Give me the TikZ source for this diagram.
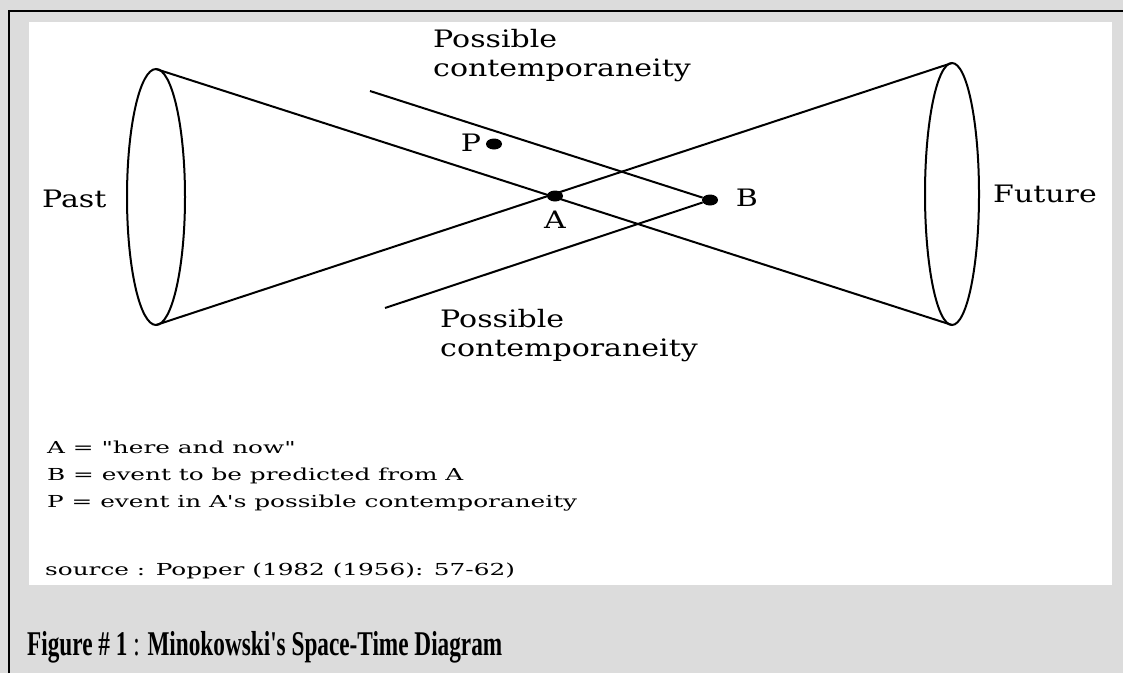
\documentclass[tikz,border=0pt]{standalone}
\usepackage{fontspec}
\usetikzlibrary{positioning,shapes.geometric}
\newfontfamily\figfont[FakeStretch=1.25]{DejaVu Serif}
\newfontfamily\keyfont[FakeStretch=1.5]{DejaVu Serif}
\newfontfamily\capfont[FakeStretch=0.67]{Liberation Serif}
\definecolor{panelgray}{RGB}{220,220,220}
\tikzset{
    event/.style={ellipse,fill=black,inner sep=0pt,minimum width=16pt,minimum height=11pt},
    lbl/.style={inner sep=0pt,font=\figfont\fontsize{24}{29}\selectfont,align=left},
    keytext/.style={inner sep=0pt,anchor=base west,font=\keyfont\fontsize{16.5}{20}\selectfont},
    cone/.style={line width=2pt}
}
\begin{document}
\begin{tikzpicture}[x=1pt,y=-1pt]
    \useasboundingbox (0,0) rectangle (1123,673);
    \fill[panelgray] (0,0) rectangle (1123,673);
    \draw[line width=2pt] (9,673) -- (9,11) -- (1123,11);
    \fill[white] (29,22) rectangle (1112,585);
    % light cones
    \coordinate (pasttop) at (156,69);
    \coordinate (pastbot) at (156,325);
    \coordinate (futtop) at (952,63);
    \coordinate (futbot) at (952,325);
    \draw[cone] (156,197) ellipse (29pt and 128pt);
    \draw[cone] (952,194) ellipse (27pt and 131pt);
    \draw[cone] (pasttop) -- (futbot);
    \draw[cone] (pastbot) -- (futtop);
    % events
    \node[event] (A) at (555,196) {};
    \node[event] (B) at (710,200) {};
    \node[event] (P) at (494,144) {};
    \node[lbl] (Alabel) at (555,220) {A};
    \node[lbl] (Blabel) at (747,198) {B};
    \node[lbl] (Plabel) at (471,143) {P};
    \coordinate (upstart) at (370,91);
    \coordinate (lowstart) at (385,308);
    \draw[cone] (upstart) -- (B);
    \draw[cone] (lowstart) -- (B);
    \node[lbl,anchor=north west] (upcont) at (433,29) {Possible\\contemporaneity};
    \node[lbl,anchor=north west] (lowcont) at (440,309) {Possible\\contemporaneity};
    \node[lbl,anchor=base west] (past) at (42,207) {Past};
    \node[lbl,anchor=base west] (future) at (993,202) {Future};
    % legend
    \node[keytext] (keyA) at (47,453) {A = "here and now"};
    \node[keytext] (keyB) at (47,480) {B = event to be predicted from A};
    \node[keytext] (keyP) at (47,507) {P = event in A's possible contemporaneity};
    \node[keytext] (source) at (45,575) {source : Popper (1982 (1956): 57-62)};
    \node[inner sep=0pt,anchor=base west,font=\capfont\fontsize{34.7}{40}\selectfont] (caption) at (27,655)
        {\textbf{Figure \# 1} : \textbf{Minokowski's Space-Time Diagram}};
\end{tikzpicture}
\end{document}
